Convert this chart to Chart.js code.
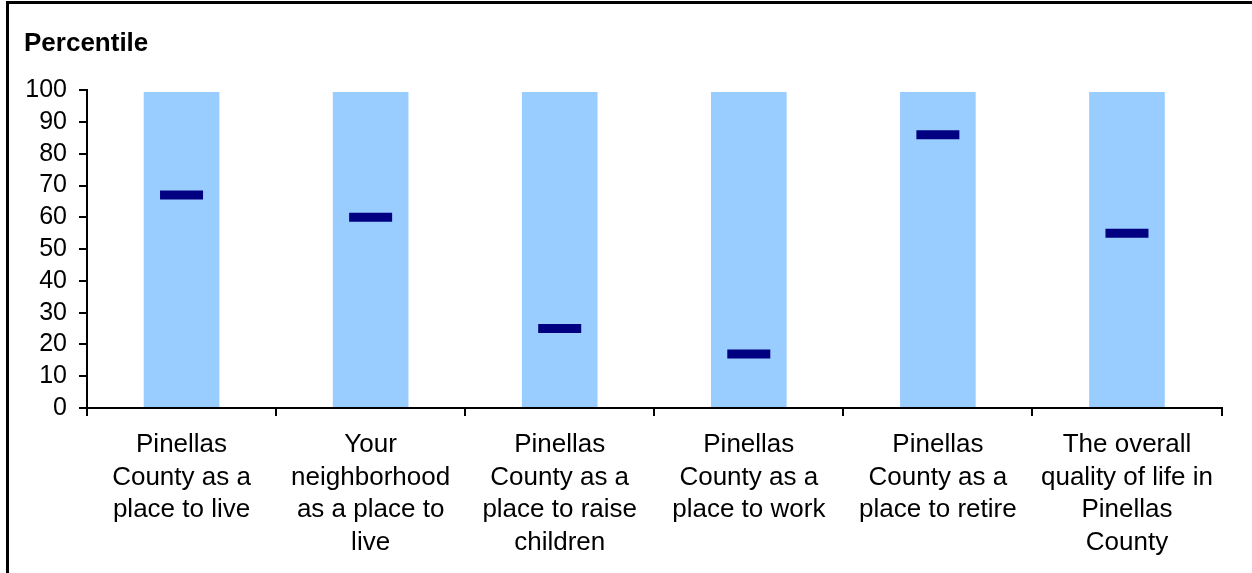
<!DOCTYPE html>
<html>
<head>
<meta charset="utf-8">
<script src="https://cdn.jsdelivr.net/npm/chart.js@4"></script>
<style>
	body { margin: 0; background: #fff; }
	#wrap { position: relative; width: 1252px; height: 573px; overflow: hidden; }
	#frame {
		position: absolute; left: 6px; top: 1px; width: 1400px; height: 700px;
		border-left: 3px solid #000; border-top: 3px solid #000;
	}
	canvas { position: absolute; left: 0; top: 0; }
</style>
</head>
<body>
<div id="wrap">
	<div id="frame"></div>
	<canvas id="chart" width="1252" height="573"></canvas>
</div>
<script>
const categories = [
	['Pinellas', 'County as a', 'place to live'],
	['Your', 'neighborhood', 'as a place to', 'live'],
	['Pinellas', 'County as a', 'place to raise', 'children'],
	['Pinellas', 'County as a', 'place to work'],
	['Pinellas', 'County as a', 'place to retire'],
	['The overall', 'quality of life in', 'Pinellas', 'County']
];
const rangeTop = [99.4, 99.4, 99.4, 99.4, 99.4, 99.4];
const percentiles = [67, 60, 25, 17, 86, 55];
const yTicks = [0, 10, 20, 30, 40, 50, 60, 70, 80, 90, 100];

const FONT = 'Arial, "Liberation Sans", sans-serif';

const ctx = document.getElementById('chart').getContext('2d');

const chart = new Chart(ctx, {
	type: 'bar',
	data: {
		labels: categories,
		datasets: [{
			type: 'line',
			label: 'Percentile',
			data: percentiles,
			showLine: false,
			pointStyle: 'line',
			pointRadius: 21.5,
			pointHoverRadius: 21.5,
			pointBorderWidth: 9,
			pointHoverBorderWidth: 9,
			borderColor: '#000080',
			backgroundColor: '#000080',
			order: 0
		}, {
			label: 'Range',
			data: rangeTop,
			backgroundColor: '#99CCFF',
			borderWidth: 0,
			categoryPercentage: 1,
			barPercentage: 0.4,
			order: 1
		}]
	},
	options: {
		responsive: false,
		animation: false,
		events: [],
		layout: { padding: { left: 24, right: 29, top: 0, bottom: 0 } },
		plugins: {
			legend: { display: false },
			tooltip: { enabled: false },
			title: {
				display: true,
				text: 'Percentile',
				align: 'start',
				color: '#000',
				font: { family: FONT, size: 26, weight: 'bold', lineHeight: 1.2 },
				padding: { top: 28, bottom: 31 }
			}
		},
		scales: {
			x: {
				grid: {
					display: true,
					offset: true,
					drawOnChartArea: false,
					drawTicks: true,
					tickLength: 8,
					color: '#000',
					lineWidth: 2
				},
				border: { display: true, color: '#000', width: 2 },
				ticks: {
					color: '#000',
					padding: 13,
					maxRotation: 0,
					autoSkip: false,
					font: { family: FONT, size: 26, lineHeight: 1.25 }
				},
				afterFit: function(scale) { scale.height = 165; }
			},
			y: {
				min: 0,
				max: 100,
				afterBuildTicks: function(scale) {
					scale.ticks = yTicks.map(v => ({ value: v }));
				},
				grid: {
					display: true,
					drawOnChartArea: false,
					drawTicks: true,
					tickLength: 8,
					color: '#000',
					lineWidth: 2
				},
				border: { display: true, color: '#000', width: 2 },
				ticks: {
					color: '#000',
					padding: 12,
					autoSkip: false,
					font: { family: FONT, size: 25 }
				},
				afterFit: function(scale) { scale.width = 63; }
			}
		}
	}
});
</script>
</body>
</html>
